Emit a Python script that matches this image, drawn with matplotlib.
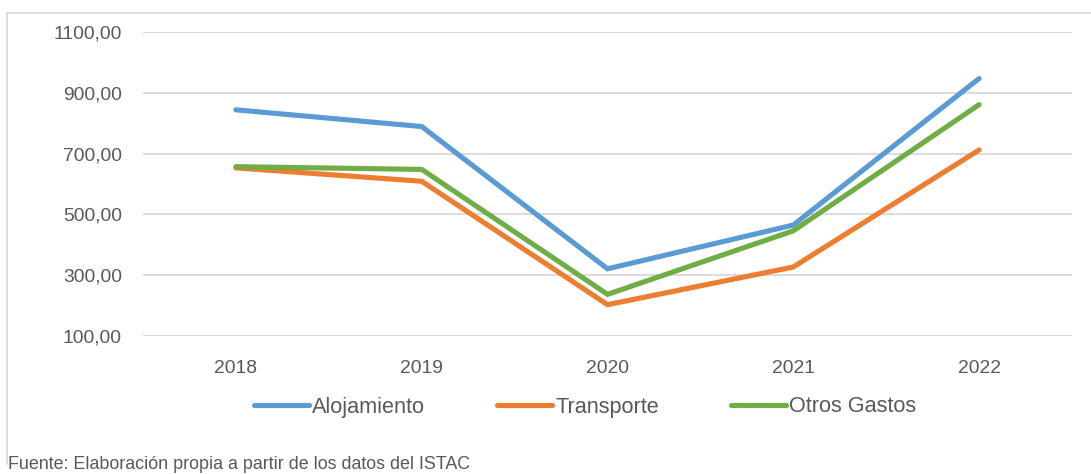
import matplotlib

matplotlib.use("Agg")
import matplotlib.pyplot as plt
from matplotlib.lines import Line2D
from matplotlib.ticker import FuncFormatter

YEARS = ["2018", "2019", "2020", "2021", "2022"]
ALOJAMIENTO = [844, 789, 321, 465, 947]
TRANSPORTE = [653, 609, 203, 327, 712]
OTROS_GASTOS = [657, 648, 237, 446, 861]
Y_TICKS = [100, 300, 500, 700, 900, 1100]

SERIES = [
    ("Alojamiento", ALOJAMIENTO, "#5B9BD5"),
    ("Transporte", TRANSPORTE, "#ED7D31"),
    ("Otros Gastos", OTROS_GASTOS, "#70AD47"),
]
TEXT = "#595959"
GRID = "#D9D9D9"

plt.rcParams["font.family"] = ["Liberation Sans", "DejaVu Sans"]

W, H = 1091, 474
fig = plt.figure(figsize=(W / 100, H / 100), dpi=100)

# chart frame: top and left edges only
fig.add_artist(Line2D([7 / W, 1.0], [1 - 13 / H, 1 - 13 / H], color=GRID, lw=1.2))
fig.add_artist(Line2D([7 / W, 7 / W], [1 - 13 / H, 1 - 464 / H], color=GRID, lw=1.2))

ax = fig.add_axes([143 / W, 1 - 336 / H, 929 / W, 304 / H])
x = list(range(len(YEARS)))
for name, vals, color in SERIES:
    ax.plot(x, vals, color=color, lw=3.7, solid_capstyle="round",
            solid_joinstyle="miter", label=name, zorder=3)

ax.set_xlim(-0.5, len(YEARS) - 0.5)
ax.set_ylim(Y_TICKS[0], Y_TICKS[-1])
ax.set_yticks(Y_TICKS)
ax.yaxis.set_major_formatter(FuncFormatter(lambda v, _: f"{v:.2f}".replace(".", ",")))
ax.set_xticks(x)
ax.set_xticklabels(YEARS)
ax.grid(axis="y", color=GRID, lw=1.3)
ax.set_axisbelow(True)
for spine in ax.spines.values():
    spine.set_visible(False)
ax.tick_params(axis="both", length=0, labelsize=13.9, labelcolor=TEXT)
ax.tick_params(axis="y", pad=15.3)
ax.tick_params(axis="x", pad=17)

# legend sits centred under the whole frame, a bit left of the plot centre
leg = ax.legend(loc="center", bbox_to_anchor=((585 - 143) / 929, (407 - 336) / -304),
                ncol=3, frameon=False, fontsize=15.6, handlelength=2.56,
                handletextpad=0.14, columnspacing=3.3)
for t in leg.get_texts():
    t.set_color(TEXT)
for h in leg.legend_handles:
    h.set_linewidth(3.7)

fig.text(8 / W, 1 / H, "Fuente: Elaboración propia a partir de los datos del ISTAC",
         fontsize=12.85, color=TEXT, va="bottom", ha="left")

fig.savefig("out.png", dpi=100, facecolor="white")
